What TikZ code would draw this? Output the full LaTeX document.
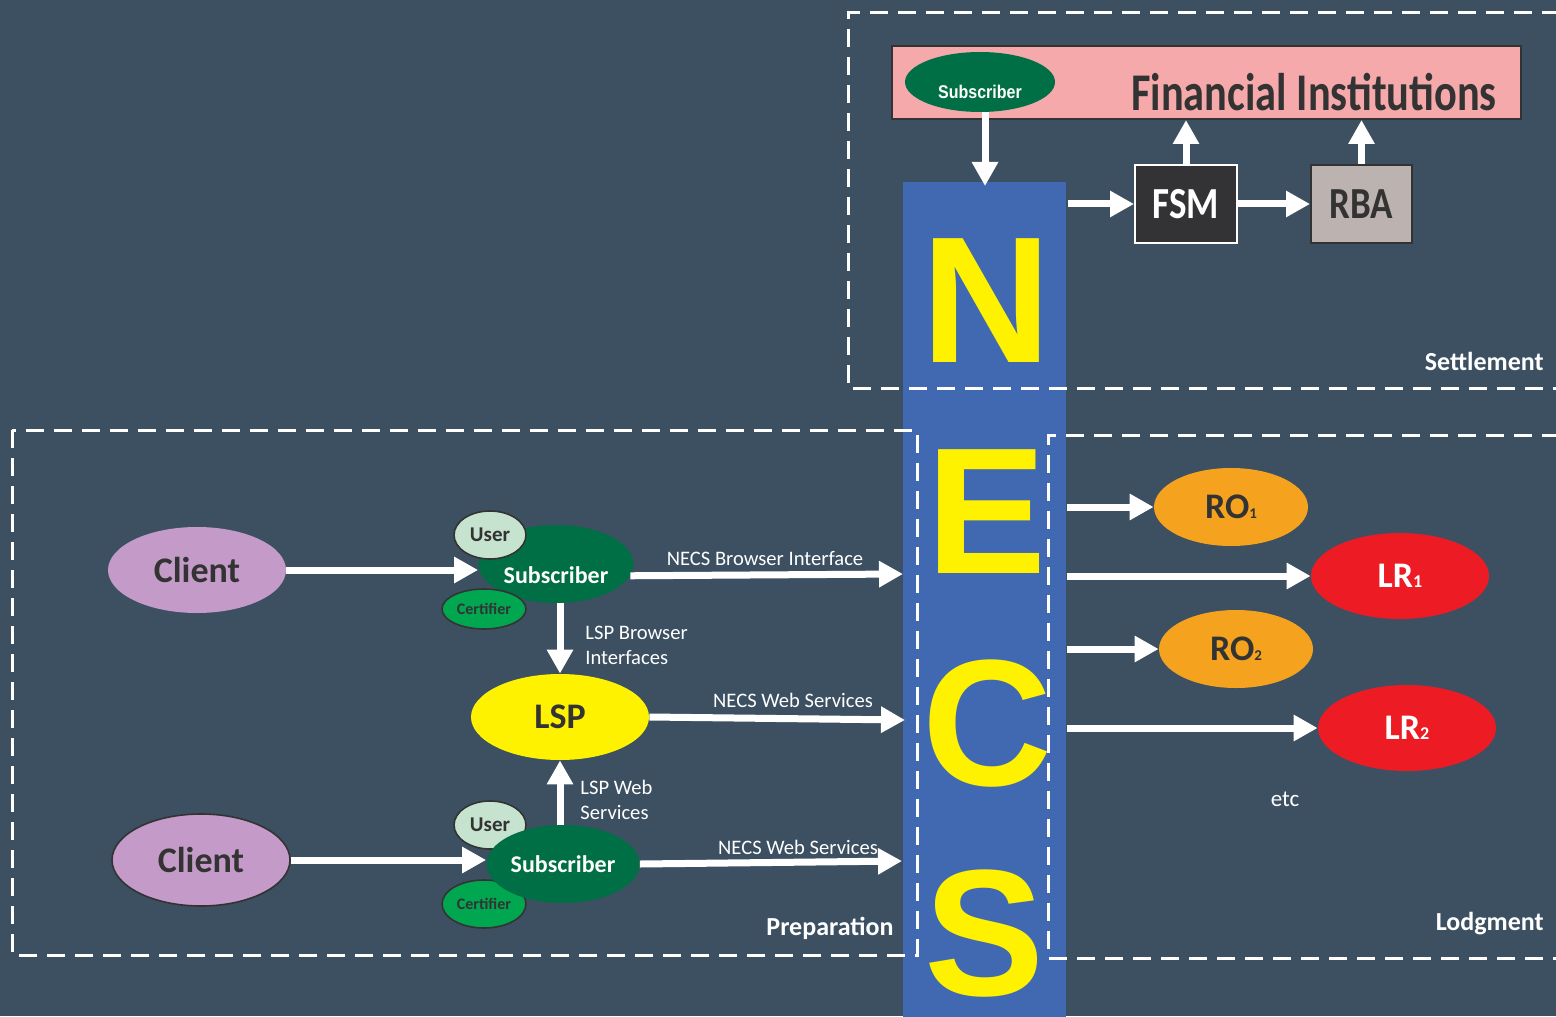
\documentclass[tikz,border=0pt]{standalone}
\usepackage{fontspec}
\setmainfont{Carlito}
\newfontfamily\lib{Liberation Sans}
\usetikzlibrary{arrows.meta,shapes.geometric}
\definecolor{bg}{RGB}{60,80,98}
\definecolor{necsblue}{RGB}{65,105,177}
\definecolor{necsyellow}{RGB}{255,242,0}
\definecolor{fipink}{RGB}{246,169,170}
\definecolor{subgreen}{RGB}{0,111,69}
\definecolor{certgreen}{RGB}{0,166,80}
\definecolor{userg}{RGB}{198,227,207}
\definecolor{clientc}{RGB}{196,155,200}
\definecolor{roc}{RGB}{245,163,30}
\definecolor{lrc}{RGB}{237,28,36}
\definecolor{fsmc}{RGB}{51,51,54}
\definecolor{rbac}{RGB}{188,178,175}
\definecolor{dtext}{RGB}{51,51,51}
\begin{document}
\begin{tikzpicture}[x=0.5pt,y=-0.5pt,
  arr/.style={draw=white,line width=3.5pt,-{Triangle[length=12pt,width=12.5pt]}},
  dbox/.style={draw=white,line width=1.5pt,dash pattern=on 9pt off 5pt},
  oval/.style={ellipse,inner sep=0pt},
  lbl/.style={text=white,font=\fontsize{10.3}{12.5}\selectfont,inner sep=0pt},
  sec/.style={text=white,font=\fontsize{13}{15}\selectfont\bfseries,inner sep=0pt},
  letter/.style={text=necsyellow,font=\lib\bfseries\fontsize{90}{90}\selectfont,inner sep=0pt,anchor=base},
  big/.style={font=\fontsize{18}{20}\selectfont\bfseries},
  rim/.style={draw=dtext,line width=0.8pt}
]
\fill[bg] (0,0) rectangle (1556,1016);
\useasboundingbox (0,0) rectangle (1556,1016);

% NECS bar
\node[fill=necsblue,minimum width=81.5pt,minimum height=420pt,anchor=north west,inner sep=0pt] (necs) at (903,182) {};

% dashed regions
\draw[dbox] (1560,13) -- (848,13) -- (848,388) -- (1560,388);
\draw[dbox] (12,430) rectangle (917,955);
\draw[dbox] (1560,435) -- (1048,435) -- (1048,958) -- (1560,958);

% letters
\node[letter] (lN) at (986,362) {N};
\node[letter] (lE) at (987,573) {E};
\node[letter] (lC) at (987,785) {C};
\node[letter] (lS) at (985,995) {S};

% Settlement
\node[fill=fipink,rim,line width=1pt,minimum width=314.5pt,minimum height=36.5pt,anchor=north west,inner sep=0pt] (fi) at (891,45) {};
\node[text=dtext,font=\fontsize{21.2}{24}\selectfont\bfseries,inner sep=0pt] (fitext) at (1314,92) {\scalebox{1}[1.25]{Financial Institutions}};
\node[oval,fill=subgreen,minimum width=75pt,minimum height=30pt] (subtop) at (980,82) {};
\node[text=white,font=\lib\bfseries\fontsize{8}{9}\selectfont,inner sep=0pt] (subtoptxt) at (980,92) {\scalebox{1}[1.15]{Subscriber}};
\coordinate (necstop) at (985,186);
\draw[arr] (subtop.south -| necstop) -- (necstop);

\node[fill=fsmc,draw=white,line width=1pt,minimum width=51pt,minimum height=39pt,inner sep=0pt,text=white,font=\fontsize{18.5}{20}\selectfont\bfseries] (fsm) at (1186,204) {\scalebox{1}[1.2]{FSM}};
\node[fill=rbac,rim,line width=1pt,minimum width=50.5pt,minimum height=39pt,inner sep=0pt,text=dtext,font=\fontsize{18.5}{20}\selectfont\bfseries] (rba) at (1361.5,204) {\scalebox{1}[1.2]{RBA}};
\coordinate (necsr) at (1068,204);
\draw[arr] (necsr) -- (fsm.west);
\draw[arr] (fsm.east) -- (rba.west);
\draw[arr] (fsm.north) -- (fsm.north |- fi.south);
\draw[arr] (rba.north) -- (rba.north |- fi.south);
\node[sec,anchor=east] (settle) at (1544,361) {Settlement};

% Preparation
\node[oval,fill=clientc,minimum width=89pt,minimum height=43pt,text=dtext,big] (client1) at (197,570) {Client};
\node[oval,fill=clientc,rim,minimum width=89pt,minimum height=46pt,text=dtext,big] (client2) at (201,860) {Client};
\node[oval,fill=necsyellow,minimum width=89pt,minimum height=43pt,text=dtext,big] (lsp) at (560,717) {LSP};

\node[oval,fill=subgreen,minimum width=77.5pt,minimum height=39pt] (sub1) at (556,564) {};
\node[text=white,font=\fontsize{12}{14}\selectfont\bfseries,inner sep=0pt] (sub1txt) at (556,575) {Subscriber};
\node[oval,fill=userg,rim,minimum width=36pt,minimum height=24pt,text=dtext,font=\fontsize{10.5}{12}\selectfont\bfseries] (user1) at (490,535) {User};
\node[oval,fill=certgreen,rim,minimum width=42pt,minimum height=20pt,text=dtext,font=\fontsize{8}{9}\selectfont\bfseries] (cert1) at (484,609) {Certifier};

\node[oval,fill=userg,rim,minimum width=36pt,minimum height=24pt,text=dtext,font=\fontsize{10.5}{12}\selectfont\bfseries] (user2) at (490,825) {User};
\node[oval,fill=certgreen,rim,minimum width=42pt,minimum height=24pt,text=dtext,font=\fontsize{8}{9}\selectfont\bfseries] (cert2) at (484,904) {Certifier};
\node[oval,fill=subgreen,minimum width=76.5pt,minimum height=39pt,text=white,font=\fontsize{12}{14}\selectfont\bfseries] (sub2) at (563,864) {Subscriber};

\draw[arr] (client1.east) -- (client1.east -| sub1.west);
\coordinate (nb1) at (903,574);
\draw[arr] (sub1.-9) -- (nb1);
\node[lbl] (t1) at (765,559) {NECS Browser Interface};
\draw[arr] (lsp.north |- sub1.south) -- (lsp.north);
\node[lbl,align=left,anchor=west] (t2) at (585,645) {LSP Browser\\Interfaces};
\coordinate (nb2) at (905,720);
\draw[arr] (lsp.east) -- (nb2);
\node[lbl] (t3) at (793,700) {NECS Web Services};
\draw[arr] (lsp.south |- sub2.north) -- (lsp.south);
\node[lbl,align=left,anchor=west] (t4) at (580,800) {LSP Web\\Services};
\draw[arr] (client2.east) -- (client2.east -| sub2.west);
\coordinate (nb3) at (902,861);
\draw[arr] (sub2.east) -- (nb3);
\node[lbl] (t5) at (798,847) {NECS Web Services};
\node[sec] (prep) at (830,928) {Preparation};

% Lodgment
\node[oval,fill=roc,minimum width=77pt,minimum height=39pt,text=dtext,big] (ro1) at (1231,507) {RO{\fontsize{7.5}{8}\selectfont 1}};
\node[oval,fill=lrc,minimum width=89pt,minimum height=43pt,text=white,big] (lr1) at (1400,576) {LR{\fontsize{9}{10}\selectfont 1}};
\node[oval,fill=roc,minimum width=77pt,minimum height=39pt,text=dtext,big] (ro2) at (1236,649) {RO{\fontsize{7.5}{8}\selectfont 2}};
\node[oval,fill=lrc,minimum width=89pt,minimum height=43pt,text=white,big] (lr2) at (1407,728) {LR{\fontsize{9}{10}\selectfont 2}};
\draw[arr] (necs.east |- ro1.west) -- (ro1.west);
\draw[arr] (necs.east |- lr1.west) -- (lr1.west);
\draw[arr] (necs.east |- ro2.west) -- (ro2.west);
\draw[arr] (necs.east |- lr2.west) -- (lr2.west);
\node[text=white,font=\fontsize{11.5}{13}\selectfont,inner sep=0pt] (etc) at (1285,799) {etc};
\node[sec,anchor=east] (lodg) at (1544,924) {Lodgment};
\end{tikzpicture}
\end{document}
